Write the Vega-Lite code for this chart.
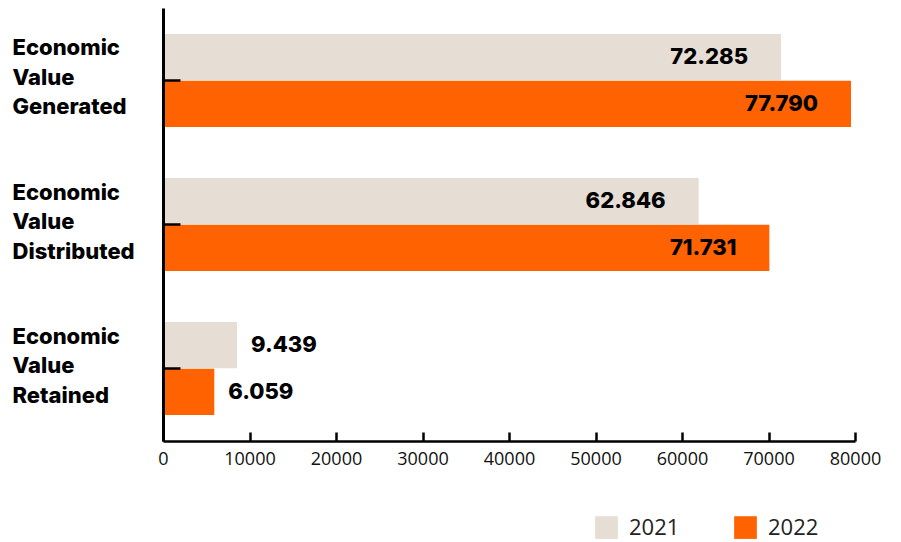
{
  "$schema": "https://vega.github.io/schema/vega-lite/v6.json",
  "autosize": {"type": "none"},
  "width": 692,
  "height": 433,
  "padding": {"left": 163, "top": 8, "right": 46, "bottom": 101},
  "background": "white",
  "data": {
    "values": [
      {"category": "Economic Value Generated", "year": "2021", "value": 71450, "label": "72.285"},
      {"category": "Economic Value Generated", "year": "2022", "value": 79540, "label": "77.790"},
      {"category": "Economic Value Distributed", "year": "2021", "value": 61920, "label": "62.846"},
      {"category": "Economic Value Distributed", "year": "2022", "value": 70100, "label": "71.731"},
      {"category": "Economic Value Retained", "year": "2021", "value": 8555, "label": "9.439"},
      {"category": "Economic Value Retained", "year": "2022", "value": 5930, "label": "6.059"}
    ]
  },
  "encoding": {
    "y": {
      "field": "category",
      "type": "nominal",
      "sort": null,
      "scale": {"paddingInner": 0.355, "paddingOuter": 0.18},
      "axis": {
        "title": null,
        "zindex": 1,
        "labelExpr": "split(datum.label, ' ')",
        "labelAlign": "left",
        "labelBaseline": "middle",
        "labelPadding": 168,
        "labelOffset": -32,
        "labelFont": "Inter",
        "labelFontSize": 22,
        "labelFontWeight": 800,
        "labelColor": "#000000",
        "labelLineHeight": 29.5,
        "labelLimit": 0,
        "tickSize": -17,
        "tickWidth": 2.5,
        "tickColor": "#000000",
        "domainColor": "#000000",
        "domainWidth": 3
      }
    },
    "yOffset": {"field": "year", "type": "nominal", "scale": {"paddingInner": 0.01}},
    "x": {
      "field": "value",
      "type": "quantitative",
      "scale": {"domain": [0, 80000], "nice": false},
      "axis": {
        "title": null,
        "zindex": 1,
        "values": [0, 10000, 20000, 30000, 40000, 50000, 60000, 70000, 80000],
        "format": "d",
        "grid": false,
        "labelFlush": false,
        "labelFont": "Open Sans",
        "labelFontSize": 18,
        "labelColor": "#111111",
        "labelPadding": 18,
        "tickSize": -9,
        "tickWidth": 2.5,
        "tickColor": "#000000",
        "domainColor": "#000000",
        "domainWidth": 2.5
      }
    }
  },
  "layer": [
    {
      "mark": {"type": "bar"},
      "encoding": {
        "color": {
          "field": "year",
          "type": "nominal",
          "scale": {"domain": ["2021", "2022"], "range": ["#E6DDD4", "#FF6200"]},
          "legend": {
            "title": null,
            "orient": "none",
            "direction": "horizontal",
            "legendX": 432,
            "legendY": 508,
            "padding": 0,
            "symbolType": "square",
            "symbolSize": 515,
            "symbolStrokeWidth": 0,
            "labelFont": "Open Sans",
            "labelFontSize": 22,
            "labelColor": "#222222",
            "labelOffset": 11,
            "columnPadding": 54
          }
        }
      }
    },
    {
      "transform": [{"filter": "datum.value > 20000"}],
      "mark": {"type": "text", "align": "right", "baseline": "middle", "dx": -33, "font": "Inter", "fontSize": 22, "fontWeight": 800, "color": "#000000"},
      "encoding": {"text": {"field": "label", "type": "nominal"}}
    },
    {
      "transform": [{"filter": "datum.value <= 20000"}],
      "mark": {"type": "text", "align": "left", "baseline": "middle", "dx": 14, "font": "Inter", "fontSize": 22, "fontWeight": 800, "color": "#000000"},
      "encoding": {"text": {"field": "label", "type": "nominal"}}
    }
  ],
  "config": {"view": {"stroke": null}}
}
